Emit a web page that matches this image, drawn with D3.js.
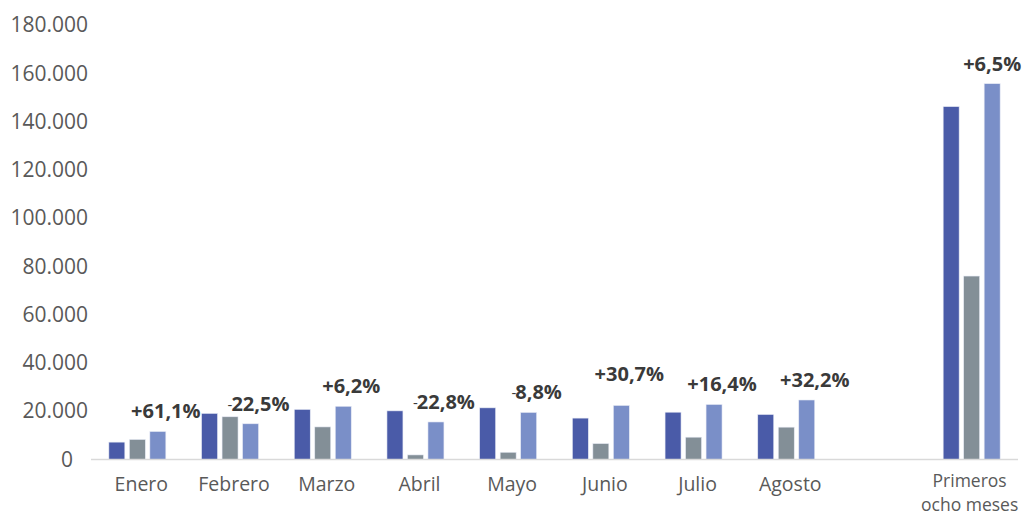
<!DOCTYPE html>
<html>
<head>
<meta charset="utf-8">
<script src="https://cdn.jsdelivr.net/npm/d3@7"></script>
<style>
  body { margin: 0; background: #fff; }
  text { font-family: "Open Sans", sans-serif; }
</style>
</head>
<body>
<svg id="chart" width="1027" height="517"></svg>
<script>
var svg = d3.select("#chart");

// categories (one blank slot before the total)
var months = ["Enero", "Febrero", "Marzo", "Abril", "Mayo", "Junio", "Julio", "Agosto", "", "Primeros ocho meses"];
// three series per category
var serieA = [7200, 19100, 20750, 20150, 21400, 17150, 19600, 18650, null, 146200];
var serieB = [8300, 17700, 13500, 1900, 3000, 6600, 9250, 13400, null, 76000];
var serieC = [11600, 14800, 22050, 15550, 19500, 22400, 22800, 24650, null, 155700];
var changes = ["+61,1%", "-22,5%", "+6,2%", "-22,8%", "-8,8%", "+30,7%", "+16,4%", "+32,2%", "", "+6,5%"];
var yTicks = [0, 20000, 40000, 60000, 80000, 100000, 120000, 140000, 160000, 180000];

var colors = ["#4a5ba8", "#838f97", "#7a8fc8"];

var plotLeft = 91, plotRight = 1018, plotTop = 25, plotBottom = 459.5;

var x0 = d3.scaleBand().domain(months).range([plotLeft, plotRight]).padding(0);
var x1 = d3.scaleBand().domain([0, 1, 2])
  .range([x0.bandwidth() / 2 - 30.75, x0.bandwidth() / 2 + 30.75])
  .paddingInner(0.22).paddingOuter(0.11);
var y = d3.scaleLinear().domain([0, 180000]).range([plotBottom, plotTop]);

var fmt = function (d) { return d3.format(",")(d).replace(/,/g, "."); };

// y axis labels only
var yAxis = d3.axisLeft(y).tickValues(yTicks).tickFormat(fmt).tickSize(0).tickPadding(0);
var gy = svg.append("g")
  .attr("transform", "translate(88,0)")
  .call(yAxis);
gy.select(".domain").remove();
gy.selectAll("text")
  .style("font-family", "'Open Sans', sans-serif")
  .style("font-size", "21px")
  .attr("fill", "#595959")
  .attr("dx", function (d) { return d === 0 ? -15 : 0; });

// bars
var series = [serieA, serieB, serieC];
series.forEach(function (vals, si) {
  svg.append("g").selectAll("rect")
    .data(months.map(function (m, i) { return { m: m, v: vals[i] }; }).filter(function (d) { return d.v != null; }))
    .enter().append("rect")
    .attr("x", function (d) { return x0(d.m) + x1(si); })
    .attr("width", x1.bandwidth())
    .attr("y", function (d) { return y(d.v); })
    .attr("height", function (d) { return plotBottom - y(d.v); })
    .attr("fill", colors[si])
    .attr("stroke", "#e8ebf5")
    .attr("stroke-width", 0.6);
});

// baseline
svg.append("line")
  .attr("x1", plotLeft).attr("x2", plotRight)
  .attr("y1", plotBottom).attr("y2", plotBottom)
  .attr("stroke", "#d9d9d9").attr("stroke-width", 1.5);

// x labels
months.forEach(function (m) {
  if (!m) return;
  var cx = x0(m) + x0.bandwidth() / 2;
  if (m.indexOf("Primeros") === 0) {
    // two separate lines for the total
    svg.append("text").attr("text-anchor", "middle").attr("font-size", 17.5).attr("fill", "#595959")
      .attr("x", cx - 2).attr("y", 487).text("Primeros");
    svg.append("text").attr("text-anchor", "middle").attr("font-size", 17.5).attr("fill", "#595959")
      .attr("x", cx - 2).attr("y", 511).text("ocho meses");
  } else {
    svg.append("text").attr("text-anchor", "middle").attr("font-size", 19.5).attr("fill", "#595959")
      .attr("x", cx + 4).attr("y", 491).text(m);
  }
});

// percent change labels above the third bar
var extraLift = { "Junio": 11 };
months.forEach(function (m, i) {
  if (!m || !changes[i]) return;
  var isTotal = i === months.length - 1;
  var bx = x0(m) + x1(2) + x1.bandwidth() / 2 + (isTotal ? 0 : 8);
  var by = y(serieC[i]) - 13 - (extraLift[m] || 0);
  var t = svg.append("text")
    .attr("x", bx).attr("y", by)
    .attr("text-anchor", "middle")
    .attr("font-size", 20)
    .attr("fill", "#3a3a3a");
  var s = changes[i];
  if (s[0] === "-") {
    t.append("tspan").attr("font-weight", 400).attr("font-size", 15).attr("dy", -1).text("-");
    t.append("tspan").attr("font-weight", 700).attr("dy", 1).attr("dx", -1).text(s.slice(1));
  } else {
    t.append("tspan").attr("font-weight", 700).text(s);
  }
});
</script>
</body>
</html>
